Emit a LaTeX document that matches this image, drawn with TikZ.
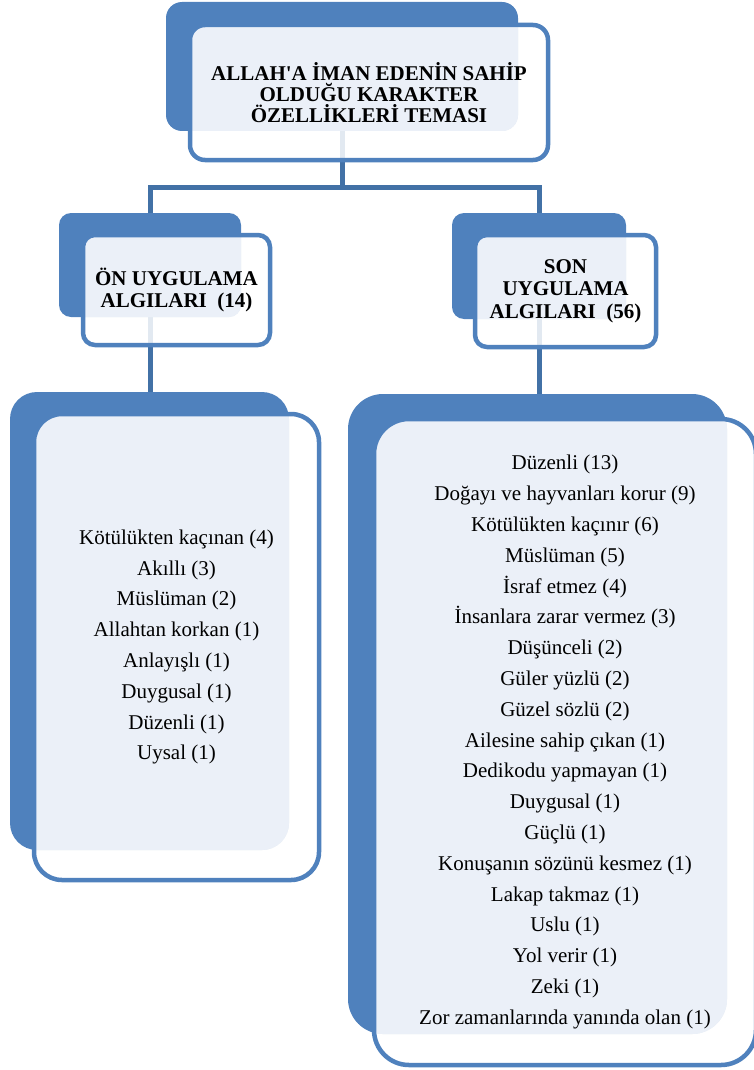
\documentclass[tikz,border=0pt]{standalone}
\usepackage{fontspec}
\setmainfont{Liberation Serif}
\pgfdeclarelayer{connlayer}
\pgfdeclarelayer{bglayer}
\pgfsetlayers{connlayer,bglayer,main}
\definecolor{boxblue}{RGB}{79,129,189}
\definecolor{connblue}{RGB}{66,113,166}
\definecolor{paleblue}{RGB}{235,240,248}
\tikzset{
  backbox/.style={rectangle, fill=boxblue, draw=none, inner sep=0pt, outer sep=0pt},
  frontbox/.style={rectangle, draw=boxblue, line width=4.5pt, inner sep=0pt, outer sep=0pt, align=center},
  conn/.style={draw=connblue, line width=5pt},
  titletext/.style={font=\fontsize{21}{21}\selectfont\bfseries},
  headtext/.style={font=\fontsize{21}{22.5}\selectfont\bfseries},
  listtext/.style={font=\fontsize{21}{30.8}\selectfont},
}
\newcommand\pairfill[4]{%
  \fill[white, fill opacity=.85, rounded corners=#4] (#2.south west) rectangle (#2.north east);
  \begin{scope}
    \clip[rounded corners=#3] (#1.south west) rectangle (#1.north east);
    \fill[paleblue, rounded corners=#4] (#2.south west) rectangle (#2.north east);
  \end{scope}}
\begin{document}
\begin{tikzpicture}[x=1pt,y=1pt]
\useasboundingbox (0,0) rectangle (753,-1070);
% front boxes with text
\node[frontbox, rounded corners=15pt, minimum width=358pt, minimum height=135pt, titletext] (tf) at (369,-92.5)
  {ALLAH\textquotesingle A İMAN EDENİN SAHİP\\OLDUĞU KARAKTER\\ÖZELLİKLERİ TEMASI};
\node[frontbox, rounded corners=12pt, minimum width=187pt, minimum height=110pt, headtext] (lf) at (176.5,-290)
  {ÖN UYGULAMA\\ALGILARI\ \ (14)};
\node[frontbox, rounded corners=12pt, minimum width=181pt, minimum height=112pt, headtext] (rf) at (565.5,-291)
  {SON\\UYGULAMA\\ALGILARI\ \ (56)};
\node[frontbox, rounded corners=28pt, minimum width=285pt, minimum height=466pt, listtext] (lbf) at (176.5,-647)
  {Kötülükten kaçınan (4)\\Akıllı (3)\\Müslüman (2)\\Allahtan korkan (1)\\Anlayışlı (1)\\Duygusal (1)\\Düzenli (1)\\Uysal (1)};
\node[frontbox, rounded corners=35pt, minimum width=382pt, minimum height=646pt, listtext] (rbf) at (565,-742)
  {Düzenli (13)\\Doğayı ve hayvanları korur (9)\\Kötülükten kaçınır (6)\\Müslüman (5)\\İsraf etmez (4)\\İnsanlara zarar vermez (3)\\Düşünceli (2)\\Güler yüzlü (2)\\Güzel sözlü (2)\\Ailesine sahip çıkan (1)\\Dedikodu yapmayan (1)\\Duygusal (1)\\Güçlü (1)\\Konuşanın sözünü kesmez (1)\\Lakap takmaz (1)\\Uslu (1)\\Yol verir (1)\\Zeki (1)\\Zor zamanlarında yanında olan (1)};
% back boxes and fills
\begin{pgfonlayer}{bglayer}
\node[backbox, rounded corners=16pt, minimum width=352pt, minimum height=129pt] (tb) at (342,-66.5) {};
\node[backbox, rounded corners=12pt, minimum width=182pt, minimum height=104pt] (lb) at (150,-265) {};
\node[backbox, rounded corners=12pt, minimum width=174pt, minimum height=106pt] (rb) at (539,-266) {};
\node[backbox, rounded corners=27pt, minimum width=279pt, minimum height=458pt] (lbb) at (149.5,-621) {};
\node[backbox, rounded corners=35pt, minimum width=379pt, minimum height=640pt] (rbb) at (537.5,-714) {};
\pairfill{tb}{tf}{16pt}{15pt}
\pairfill{lb}{lf}{12pt}{12pt}
\pairfill{rb}{rf}{12pt}{12pt}
\pairfill{lbb}{lbf}{27pt}{28pt}
\pairfill{rbb}{rbf}{35pt}{35pt}
\end{pgfonlayer}
% connectors
\begin{pgfonlayer}{connlayer}
\coordinate (jy) at (0,-187);
\draw[conn] (tb.south) -- (tb.south |- jy) -| (lb.north);
\draw[conn] (tb.south |- jy) -| (rb.north);
\draw[conn] (lb.south) -- (lb.south |- lbb.north);
\draw[conn] (rb.south) -- (rb.south |- rbb.north);
\end{pgfonlayer}
\end{tikzpicture}
\end{document}
